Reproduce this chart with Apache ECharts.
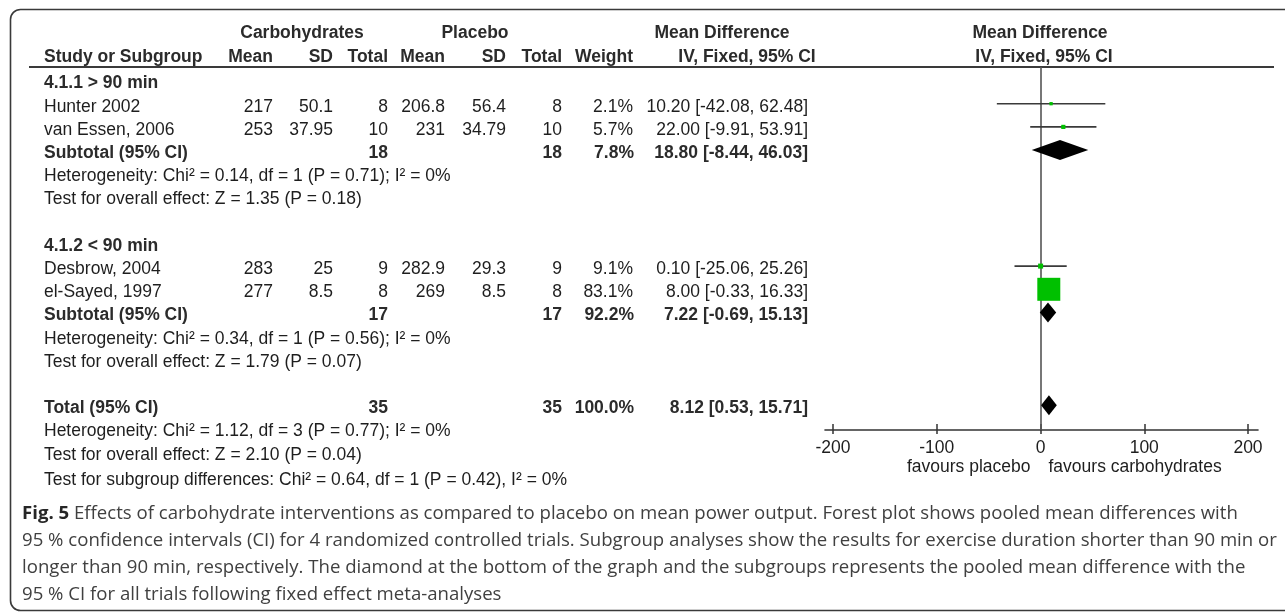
<!DOCTYPE html>
<html><head><meta charset="utf-8">
<script src="https://cdn.jsdelivr.net/npm/echarts@6/dist/echarts.min.js"></script>
<style>html,body{margin:0;padding:0;background:#fff}#c{width:1285px;height:613px}</style>
</head><body><div id="c"></div>
<script>
// ---------- data ----------
const groupTitles = ['4.1.1 > 90 min', '4.1.2 < 90 min'];
const studies = ['Hunter 2002', 'van Essen, 2006', 'Desbrow, 2004', 'el-Sayed, 1997'];
const studyGroup = [0, 0, 1, 1];
const carbMean = [217, 253, 283, 277];
const carbSD = ['50.1', '37.95', '25', '8.5'];
const carbTotal = [8, 10, 9, 8];
const placMean = ['206.8', '231', '282.9', '269'];
const placSD = ['56.4', '34.79', '29.3', '8.5'];
const placTotal = [8, 10, 9, 8];
const weights = [2.1, 5.7, 9.1, 83.1];
const md = [10.20, 22.00, 0.10, 8.00];
const mdLow = [-42.08, -9.91, -25.06, -0.33];
const mdHigh = [62.48, 53.91, 25.26, 16.33];

const pooledLabels = ['Subtotal (95% CI)', 'Subtotal (95% CI)', 'Total (95% CI)'];
const pooledCarbTotal = [18, 17, 35];
const pooledPlacTotal = [18, 17, 35];
const pooledWeight = [7.8, 92.2, 100.0];
const pooledMd = [18.80, 7.22, 8.12];
const pooledLow = [-8.44, -0.69, 0.53];
const pooledHigh = [46.03, 15.13, 15.71];

const heterogeneity = [
  'Heterogeneity: Chi² = 0.14, df = 1 (P = 0.71); I² = 0%',
  'Heterogeneity: Chi² = 0.34, df = 1 (P = 0.56); I² = 0%',
  'Heterogeneity: Chi² = 1.12, df = 3 (P = 0.77); I² = 0%'
];
const overallEffect = [
  'Test for overall effect: Z = 1.35 (P = 0.18)',
  'Test for overall effect: Z = 1.79 (P = 0.07)',
  'Test for overall effect: Z = 2.10 (P = 0.04)'
];
const subgroupTest = 'Test for subgroup differences: Chi² = 0.64, df = 1 (P = 0.42), I² = 0%';

const xAxisMin = -200, xAxisMax = 200, xAxisStep = 100;
const favourLeft = 'favours placebo';
const favourRight = 'favours carbohydrates';

const headerTop = ['Carbohydrates', 'Placebo', 'Mean Difference', 'Mean Difference'];
const headerSub = ['Study or Subgroup', 'Mean', 'SD', 'Total', 'Mean', 'SD', 'Total', 'Weight', 'IV, Fixed, 95% CI', 'IV, Fixed, 95% CI'];

const captionBold = 'Fig. 5';
const captionLines = [
  ' Effects of carbohydrate interventions as compared to placebo on mean power output. Forest plot shows pooled mean differences with',
  '95 % confidence intervals (CI) for 4 randomized controlled trials. Subgroup analyses show the results for exercise duration shorter than 90 min or',
  'longer than 90 min, respectively. The diamond at the bottom of the graph and the subgroups represents the pooled mean difference with the',
  '95 % CI for all trials following fixed effect meta-analyses'
];

// ---------- layout ----------
const W = 1285, H = 613;
const rowH = 23.2, row0Y = 80.5, ruleY = 67, axisY = 430, textDy = 3;
const plotLeft = 833, plotRight = 1248;
const FONT = '"Liberation Sans", Arial, Helvetica, sans-serif';
const FS = 17.5;
const colX = [44, 273, 333, 388, 445, 506, 562, 633, 808];
const topHeadX = [302, 475, 722, 1040];
const subHeadX = [44, 273, 333, 388, 445, 506, 562, 633, 747, 1044];
const subHeadAlign = ['left', 'right', 'right', 'right', 'right', 'right', 'right', 'right', 'center', 'center'];

function rowY(slot) { return row0Y + slot * rowH; }
function fmtCI(m, l, h) { return m.toFixed(2) + ' [' + l.toFixed(2) + ', ' + h.toFixed(2) + ']'; }

// assign row slots
let slot = 0;
const studyRow = [], pooledRow = [], titleRow = [], hetRow = [], effRow = [];
for (let g = 0; g < groupTitles.length; g++) {
  titleRow.push(slot++);
  studies.forEach((s, i) => { if (studyGroup[i] === g) studyRow[i] = slot++; });
  pooledRow.push(slot++);
  hetRow.push(slot++);
  effRow.push(slot++);
  slot++; // blank line
}
pooledRow.push(slot++);
hetRow.push(slot++);
effRow.push(slot++);
const subgroupRow = slot++;

// ---------- graphics (text) ----------
const graphics = [];
function txt(x, y, text, align, bold, color, font) {
  graphics.push({
    type: 'text', silent: true, z: 10,
    style: {
      x: x, y: y, text: String(text),
      textAlign: align, textVerticalAlign: 'middle',
      align: align, verticalAlign: 'middle',
      font: (bold ? 'bold ' : '') + (font || (FS + 'px ' + FONT)),
      fill: color || (bold ? '#2b2b2b' : '#1e1e1e')
    }
  });
}
// frame
graphics.push({ type: 'rect', silent: true, z: 1,
  shape: { x: 10.5, y: 9.5, width: 1320, height: 601, r: 10 },
  style: { fill: 'none', stroke: '#3a3a3a', lineWidth: 1.6 } });
// header rule
graphics.push({ type: 'line', silent: true, z: 1,
  shape: { x1: 29, y1: ruleY, x2: 1274, y2: ruleY },
  style: { stroke: '#3a3a3a', lineWidth: 2 } });

headerTop.forEach((t, i) => txt(topHeadX[i], 33, t, 'center', true));
headerSub.forEach((t, i) => txt(subHeadX[i], 57, t, subHeadAlign[i], true));

groupTitles.forEach((t, g) => txt(colX[0], rowY(titleRow[g]) + textDy, t, 'left', true));
studies.forEach((s, i) => {
  const y = rowY(studyRow[i]) + textDy;
  const vals = [s, carbMean[i], carbSD[i], carbTotal[i], placMean[i], placSD[i], placTotal[i],
    weights[i].toFixed(1) + '%', fmtCI(md[i], mdLow[i], mdHigh[i])];
  vals.forEach((v, c) => txt(colX[c], y, v, c === 0 ? 'left' : 'right', false));
});
pooledLabels.forEach((t, p) => {
  const y = rowY(pooledRow[p]) + textDy;
  txt(colX[0], y, t, 'left', true);
  txt(colX[3], y, pooledCarbTotal[p], 'right', true);
  txt(colX[6], y, pooledPlacTotal[p], 'right', true);
  txt(colX[7] + 1, y, pooledWeight[p].toFixed(1) + '%', 'right', true);
  txt(colX[8], y, fmtCI(pooledMd[p], pooledLow[p], pooledHigh[p]), 'right', true);
});
heterogeneity.forEach((t, k) => txt(colX[0], rowY(hetRow[k]) + textDy, t, 'left', false));
overallEffect.forEach((t, k) => txt(colX[0], rowY(effRow[k]) + textDy, t, 'left', false));
txt(colX[0], rowY(subgroupRow) + textDy + 2, subgroupTest, 'left', false);

// favours labels, around the zero of the scale
const zeroX = plotLeft + (0 - xAxisMin) / (xAxisMax - xAxisMin) * (plotRight - plotLeft);
txt(zeroX - 10, 467, favourLeft, 'right', false);
txt(zeroX + 8, 467, favourRight, 'left', false);

// caption
const capFont = '"Open Sans", "Noto Sans", sans-serif';
const capY = [514, 541, 568, 595];
captionLines.forEach((line, i) => {
  graphics.push({
    type: 'text', silent: true, z: 10,
    style: {
      x: 22, y: capY[i],
      text: i === 0 ? '{b|' + captionBold + '}{r|' + line + '}' : '{r|' + line + '}',
      textAlign: 'left', textVerticalAlign: 'middle', align: 'left', verticalAlign: 'middle',
      rich: {
        b: { fontFamily: capFont, fontSize: 18.6, fontWeight: 'bold', fill: '#262626', color: '#262626' },
        r: { fontFamily: capFont, fontSize: 18.6, fill: '#404040', color: '#404040' }
      },
      fontFamily: capFont, fontSize: 18.6, fill: '#404040'
    }
  });
});

// ---------- chart ----------
const studyData = studies.map((s, i) => [md[i], studyRow[i], mdLow[i], mdHigh[i], weights[i]]);
const pooledData = pooledLabels.map((s, p) => [pooledMd[p], pooledRow[p], pooledLow[p], pooledHigh[p]]);

const yMin = (ruleY - row0Y) / rowH, yMax = (axisY - row0Y) / rowH;
const gridBox = { left: plotLeft, right: W - plotRight, top: ruleY, bottom: H - axisY, containLabel: false };
const option = {
  animation: false,
  backgroundColor: '#fff',
  grid: [
    gridBox,
    { left: plotLeft - 8, right: W - plotRight - 10, top: ruleY, bottom: H - axisY, containLabel: false },
    Object.assign({}, gridBox)
  ],
  xAxis: [
    { gridIndex: 0, type: 'value', position: 'bottom', min: xAxisMin, max: xAxisMax, interval: xAxisStep,
      axisLine: { show: false, onZero: false },
      axisTick: { show: true, inside: true, length: 6, lineStyle: { color: '#333', width: 1.5 } },
      axisLabel: { show: true, margin: 9, color: '#1e1e1e', fontSize: FS, fontFamily: FONT,
        showMinLabel: true, showMaxLabel: true, hideOverlap: false },
      splitLine: { show: false } },
    { gridIndex: 1, type: 'value', position: 'bottom', min: 0, max: 1,
      axisLine: { show: true, onZero: false, lineStyle: { color: '#333', width: 1.6 } },
      axisTick: { show: false }, axisLabel: { show: false }, splitLine: { show: false } },
    { gridIndex: 2, type: 'value', position: 'bottom', min: xAxisMin, max: xAxisMax, interval: xAxisStep,
      axisLine: { show: false, onZero: false },
      axisTick: { show: true, inside: false, length: 4, lineStyle: { color: '#333', width: 1.5 } },
      axisLabel: { show: false }, splitLine: { show: false } }
  ],
  yAxis: [
    { gridIndex: 0, type: 'value', min: yMin, max: yMax, inverse: true, show: false, axisLine: { onZero: false } },
    { gridIndex: 1, type: 'value', min: 0, max: 1, show: false, axisLine: { onZero: false } },
    { gridIndex: 2, type: 'value', min: 0, max: 1, show: false, axisLine: { onZero: false } }
  ],
  series: [
    {
      type: 'custom', xAxisIndex: 0, yAxisIndex: 0, z: 3, clip: false,
      data: studyData,
      renderItem: function (params, api) {
        const y = api.value(1);
        const p = api.coord([api.value(0), y]);
        const l = api.coord([api.value(2), y]);
        const h = api.coord([api.value(3), y]);
        const s = 2.8 + 0.243 * api.value(4);
        return { type: 'group', children: [
          { type: 'line', shape: { x1: l[0], y1: p[1], x2: h[0], y2: p[1] },
            style: { stroke: '#3a3a3a', lineWidth: 1.6 } },
          { type: 'rect', shape: { x: p[0] - s / 2, y: p[1] - s / 2, width: s, height: s },
            style: { fill: '#00c000' } }
        ] };
      },
      markLine: {
        silent: true, symbol: ['none', 'none'], label: { show: false },
        lineStyle: { color: '#555', width: 1.6, type: 'solid' },
        data: [{ xAxis: 0 }], z: 2
      }
    },
    {
      type: 'custom', xAxisIndex: 0, yAxisIndex: 0, z: 4, clip: false,
      data: pooledData,
      renderItem: function (params, api) {
        const y = api.value(1);
        const p = api.coord([api.value(0), y]);
        const l = api.coord([api.value(2), y]);
        const h = api.coord([api.value(3), y]);
        return { type: 'polygon',
          shape: { points: [[l[0], p[1]], [p[0], p[1] - 10], [h[0], p[1]], [p[0], p[1] + 10]] },
          style: { fill: '#000' } };
      }
    }
  ],
  graphic: graphics
};
const chart = echarts.init(document.getElementById('c'), null, { renderer: 'canvas' });
chart.setOption(option);
</script>
</body></html>
